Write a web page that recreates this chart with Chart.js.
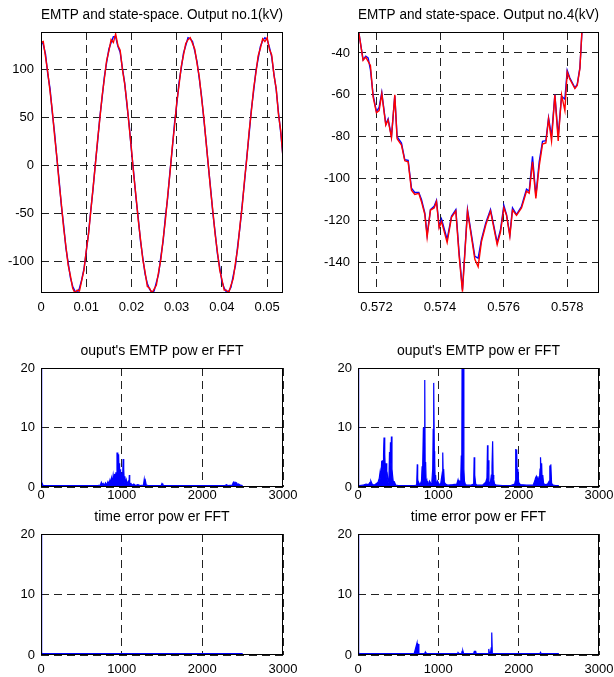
<!DOCTYPE html>
<html>
<head>
<meta charset="utf-8">
<title>EMTP and state-space</title>
<script src="https://cdn.jsdelivr.net/npm/chart.js@4.4.0/dist/chart.umd.min.js"></script>
<style>
  html, body { margin: 0; padding: 0; background: #fff; width: 614px; height: 677px; overflow: hidden; }
  canvas { position: absolute; }
</style>
</head>
<body>
<canvas id="c-tl"></canvas>
<canvas id="c-tr"></canvas>
<canvas id="c-ml"></canvas>
<canvas id="c-mr"></canvas>
<canvas id="c-bl"></canvas>
<canvas id="c-br"></canvas>
<script>
"use strict";

// ── Output no.1 (kV): sample times in ms, EMTP (blue) and state-space (red) ─
const OUT1_T_MS = [
  0, 0.5, 1, 1.5, 2, 2.5, 3, 3.5, 4, 4.5, 5, 5.5, 6, 6.5, 7, 7.5, 8, 8.5, 9, 9.5,
  10, 10.5, 11, 11.5, 12, 12.5, 13, 13.5, 14, 14.5, 15, 15.5, 16, 16.5, 17, 17.5, 18, 18.5, 19, 19.5,
  20, 20.5, 21, 21.5, 22, 22.5, 23, 23.5, 24, 24.5, 25, 25.5, 26, 26.5, 27, 27.5, 28, 28.5, 29, 29.5,
  30, 30.5, 31, 31.5, 32, 32.5, 33, 33.5, 34, 34.5, 35, 35.5, 36, 36.5, 37, 37.5, 38, 38.5, 39, 39.5,
  40, 40.5, 41, 41.5, 42, 42.5, 43, 43.5, 44, 44.5, 45, 45.5, 46, 46.5, 47, 47.5, 48, 48.5, 49, 49.5,
  50, 50.5, 51, 51.5, 52, 52.5, 53, 53.5,
];
const OUT1_EMTP = [
  130, 126, 116, 95, 80, 55, 34, 8, -15, -42, -62, -86, -101, -117, -126, -131, -133, -128, -119, -108,
  -90, -71, -47, -25, 1, 24, 50, 70, 92, 107, 121, 128, 134, 134, 124, 118, 101, 86, 63, 42,
  15, -8, -34, -55, -79, -96, -113, -123, -129, -132, -131, -122, -113, -95, -79, -54, -34, -7, 16, 43,
  63, 86, 101, 117, 125, 133, 132, 129, 119, 108, 90, 72, 48, 25, -1, -24, -50, -70, -92, -106,
  -121, -128, -132, -131, -127, -115, -104, -83, -64, -40, -17, 9, 32, 58, 77, 98, 111, 124, 130, 133,
  131, 123, 113, 95, 79, 55, 34, 9,
];
const OUT1_SS = [
  128, 129, 113, 97, 77, 57, 31, 9, -18, -40, -65, -84, -104, -115, -128, -133, -130, -131, -120, -109,
  -89, -72, -48, -24, 0, 26, 48, 72, 90, 109, 119, 131, 128, 137, 125, 120, 100, 85, 65, 40,
  17, -10, -32, -57, -77, -98, -111, -126, -128, -133, -129, -125, -111, -98, -77, -57, -32, -9, 18, 40,
  65, 83, 103, 115, 127, 131, 133, 127, 121, 106, 92, 70, 50, 24, 0, -26, -48, -72, -90, -109,
  -119, -130, -130, -133, -125, -118, -101, -86, -62, -42, -15, 7, 35, 56, 80, 96, 114, 122, 132, 129,
  133, 121, 115, 94, 80, 53, 36, 8,
];

// ── Output no.4 (kV), zoomed window ───────────────────────────────────────
const OUT4_T = [
  0.571423, 0.571580, 0.571664, 0.571738, 0.571811, 0.571895, 0.572000, 0.572084, 0.572168, 0.572294,
  0.572367, 0.572472, 0.572577, 0.572650, 0.572787, 0.572892, 0.572997, 0.573101, 0.573206, 0.573332,
  0.573416, 0.573521, 0.573594, 0.573699, 0.573815, 0.573888, 0.573972, 0.574046, 0.574224, 0.574360,
  0.574497, 0.574601, 0.574706, 0.574864, 0.575095, 0.575199, 0.575304, 0.575441, 0.575588, 0.575797,
  0.575902, 0.576007, 0.576091, 0.576196, 0.576280, 0.576406, 0.576563, 0.576720, 0.576804, 0.576909,
  0.577014, 0.577119, 0.577224, 0.577329, 0.577413, 0.577507, 0.577612, 0.577717, 0.577822, 0.577927,
  0.578000, 0.578084, 0.578242, 0.578315, 0.578399, 0.578472,
];
const OUT4_EMTP = [
  -28, -43.2, -41.6, -42.4, -48, -60, -68, -66, -58.8, -74,
  -71.5, -80, -60.5, -80, -83, -91, -91.3, -104.5, -106.6, -106.6,
  -110, -116.4, -126.8, -114.8, -113.2, -110.4, -122.8, -119.3, -129, -118,
  -114.8, -135.5, -153, -114.8, -137.1, -138, -129, -121, -114.8, -130.4,
  -124.4, -112.8, -117.2, -126.8, -114, -117.2, -113.2, -105, -106, -89.4,
  -108.3, -92, -82.2, -81.9, -71, -79.8, -59.9, -79.8, -60.7, -62,
  -48.3, -52, -56.7, -55, -47, -28,
];
const OUT4_SS = [
  -28, -43.5, -42, -44, -46, -61, -68.5, -67.5, -59.5, -74.5,
  -72, -80.5, -60, -81, -84, -91.5, -92, -105.5, -107.5, -107,
  -111, -117, -128, -115, -114, -111, -123.5, -120.5, -130.5, -118.5,
  -115.5, -137, -154, -115.5, -138.5, -142, -130, -122, -115.5, -131.5,
  -125.5, -114, -117.5, -127.5, -115, -117.5, -114, -106, -107, -92,
  -109.5, -94, -83.5, -83, -71.5, -82, -60, -82, -60, -67.5,
  -49, -52.5, -57, -55.5, -47.5, -27,
];

// ── Output's EMTP power FFT, output no.1 ──────────────────────────────────
const FFT1_F = [
  0, 6, 10, 15, 25, 40, 700, 735, 748, 758, 770, 782, 800, 812, 830, 842, 855, 865, 875, 885, 895,
  905, 912, 920, 928, 936, 942, 947, 952, 957, 962, 967, 972, 977, 982, 987, 992, 998, 1005, 1012, 1018,
  1023, 1028, 1033, 1040, 1048, 1058, 1068, 1080, 1090, 1095, 1100, 1115, 1130, 1150, 1170, 1200, 1230, 1270, 1280, 1288,
  1295, 1305, 1330, 1490, 1500, 1510, 1520, 2280, 2300, 2315, 2370, 2385, 2395, 2405, 2415, 2425, 2435, 2450, 2470, 2500,
];
const FFT1_P = [
  60, 60, 0.5, 0.6, 0.25, 0.25, 0.25, 0.3, 0.8, 0.4, 0.6, 0.3, 0.7, 0.3, 0.9, 0.5, 1.2, 0.6, 1.5, 0.7, 2.0,
  1.0, 2.2, 1.2, 2.5, 1.6, 5.8, 3.0, 5.8, 2.5, 5.5, 2.8, 4.0, 1.8, 3.0, 1.2, 2.2, 0.8, 2.5, 1.5, 4.7,
  1.5, 3.0, 0.8, 1.8, 0.6, 1.2, 0.5, 0.9, 0.5, 2.0, 0.4, 0.6, 0.3, 0.5, 0.25, 0.4, 0.25, 0.3, 1.3, 0.5,
  1.0, 0.3, 0.25, 0.25, 0.6, 0.4, 0.25, 0.25, 0.4, 0.25, 0.3, 0.8, 0.5, 0.8, 0.6, 0.7, 0.4, 0.5, 0.3, 0.25,
];

// ── Output's EMTP power FFT, output no.4 ──────────────────────────────────
const FFT4_F = [
  0, 6, 10, 20, 60, 100, 130, 150, 160, 175, 200, 230, 250, 265, 275, 285, 295, 300, 305, 312, 318,
  324, 330, 336, 342, 350, 358, 366, 375, 385, 392, 398, 404, 410, 416, 423, 430, 438, 446, 455, 470,
  500, 600, 700, 730, 738, 743, 748, 755, 770, 790, 798, 803, 808, 814, 818, 824, 831, 836, 842, 848,
  853, 859, 866, 875, 890, 910, 920, 930, 936, 940, 945, 950, 955, 960, 966, 972, 980, 990, 1010, 1030,
  1045, 1050, 1055, 1060, 1066, 1075, 1090, 1120, 1180, 1230, 1245, 1255, 1270, 1280, 1286, 1292, 1297, 1302, 1307, 1312,
  1318, 1325, 1335, 1350, 1400, 1440, 1446, 1450, 1456, 1465, 1480, 1550, 1590, 1605, 1612, 1618, 1624, 1630, 1636, 1645,
  1660, 1668, 1676, 1682, 1690, 1700, 1720, 1800, 1900, 1950, 1958, 1963, 1968, 1975, 1982, 1990, 2000, 2020, 2100, 2180,
  2200, 2210, 2220, 2230, 2240, 2250, 2260, 2266, 2272, 2280, 2286, 2292, 2300, 2310, 2330, 2360, 2380, 2388, 2394, 2400,
  2410, 2430, 2460, 2500,
];
const FFT4_P = [
  60, 60, 0.3, 0.25, 0.3, 0.5, 0.4, 0.8, 1.0, 0.5, 0.3, 0.6, 0.8, 1.5, 2.5, 1.2, 4.4, 2.0, 4.5, 3.0, 5.5,
  8.3, 3.5, 5.5, 2.2, 4.0, 1.5, 2.0, 0.8, 1.2, 5.9, 3.0, 7.5, 4.0, 8.5, 3.0, 2.0, 1.0, 0.6, 0.8, 0.3,
  0.25, 0.25, 0.25, 0.3, 3.8, 1.5, 0.4, 0.8, 0.3, 1.0, 3.5, 2.0, 3.8, 10.0, 4.0, 9.5, 18.0, 3.5, 4.2, 1.0,
  0.6, 1.0, 0.3, 0.4, 1.0, 0.5, 1.0, 3.0, 9.8, 4.0, 17.5, 6.0, 4.4, 1.5, 2.0, 0.8, 0.5, 1.0, 0.4, 0.6,
  2.0, 1.5, 5.8, 2.5, 3.0, 0.8, 0.5, 0.3, 0.4, 0.5, 1.2, 0.5, 1.0, 2.0, 5.3, 2.5, 30, 22, 30, 25,
  3.0, 1.0, 0.5, 0.3, 0.3, 0.5, 5.0, 1.5, 2.0, 0.5, 0.3, 0.3, 0.8, 1.5, 7.0, 3.0, 4.5, 1.0, 0.6, 0.4,
  2.0, 3.5, 7.7, 2.0, 1.2, 0.5, 0.3, 0.25, 0.25, 0.5, 1.0, 6.4, 3.0, 6.3, 2.0, 3.0, 0.8, 0.4, 0.3, 0.3,
  1.0, 1.5, 1.8, 1.2, 1.8, 0.8, 1.5, 3.0, 5.0, 2.0, 4.0, 1.2, 2.0, 0.6, 0.4, 0.5, 1.0, 3.6, 1.5, 3.8,
  0.6, 0.3, 0.25, 0.25,
];

// ── Time error power FFT, outputs no.1 and no.4 ───────────────────────────
const ERR1_F = [0, 6, 10, 20, 2500];
const ERR1_P = [60, 60, 0.3, 0.25, 0.25];

const ERR4_F = [
  0, 6, 10, 20, 700, 735, 742, 750, 758, 830, 838, 846, 1240, 1245, 1252, 1290, 1295, 1305, 1315, 1440, 1448,
  1465, 1472, 1620, 1628, 1635, 1650, 1658, 1665, 1672, 2265, 2272, 2280, 2500,
];
const ERR4_P = [
  60, 60, 0.3, 0.25, 0.25, 2.0, 0.4, 1.8, 0.25, 0.25, 0.5, 0.25, 0.25, 0.4, 0.25, 0.25, 0.6, 0.7, 0.25, 0.25, 0.6,
  0.6, 0.25, 0.25, 1.0, 0.3, 0.4, 1.2, 3.7, 0.25, 0.25, 0.45, 0.25, 0.25,
];

// ── Axis ticks ─────────────────────────────────────────────────────────────
const OUT1_XTICKS = [0, 0.01, 0.02, 0.03, 0.04, 0.05];
const OUT1_YTICKS = [-100, -50, 0, 50, 100];
const OUT4_XTICKS = [0.572, 0.574, 0.576, 0.578];
const OUT4_YTICKS = [-140, -120, -100, -80, -60, -40];
const FFT_XTICKS = [0, 1000, 2000, 3000];
const FFT_YTICKS = [0, 10, 20];

// ── Chart.js defaults ──────────────────────────────────────────────────────
Chart.defaults.font.family = "'Liberation Sans', Arial, sans-serif";
Chart.defaults.font.size = 13;
Chart.defaults.color = "#000";

const BLUE = "#0000ff";
const RED = "#ff0000";

// axis box widths around each plot area
const AXIS_W = 45, AXIS_H = 24, TITLE_H = 24, PAD_R = 22;

function points(xs, ys, scale = 1) {
  return xs.map((x, i) => ({ x: x * scale, y: ys[i] }));
}

// black frame around the plot area, like a MATLAB axes box
const boxPlugin = {
  id: "box",
  afterDatasetsDraw(chart) {
    const { ctx, chartArea: a } = chart;
    ctx.save();
    ctx.strokeStyle = "#000";
    ctx.lineWidth = 1;
    ctx.setLineDash([]);
    ctx.strokeRect(a.left + 0.5, a.top + 0.5, a.right - a.left - 1, a.bottom - a.top - 1);
    ctx.restore();
  },
};

function axis(min, max, ticks, pad) {
  return {
    type: "linear",
    min, max,
    afterBuildTicks: s => { s.ticks = ticks.map(v => ({ value: v })); },
    ticks: {
      autoSkip: false, maxRotation: 0, padding: pad,
      callback: v => String(v),
    },
    grid: { color: "#222", lineWidth: 1, drawTicks: false },
    border: { display: false, dash: [8, 5] },
  };
}

function makePanel(id, box, title, datasets, x, y) {
  const c = document.getElementById(id);
  c.width = box.right - box.left + AXIS_W + PAD_R;
  c.height = box.bottom - box.top + TITLE_H + AXIS_H;
  c.style.left = (box.left - AXIS_W) + "px";
  c.style.top = (box.top - TITLE_H) + "px";

  const xs = axis(x.min, x.max, x.ticks, x.pad);
  xs.afterFit = s => { s.height = AXIS_H; };
  const ys = axis(y.min, y.max, y.ticks, y.pad);
  ys.afterFit = s => { s.width = AXIS_W; };

  return new Chart(c.getContext("2d"), {
    type: "line",
    data: { datasets },
    options: {
      responsive: false,
      animation: false,
      devicePixelRatio: 1,
      layout: { padding: { left: 0, right: PAD_R, top: 0, bottom: 0 } },
      plugins: {
        legend: { display: false },
        tooltip: { enabled: false },
        title: {
          display: true, text: title, fullSize: false,
          font: { size: 14, weight: "normal", lineHeight: "14px" },
          color: "#000",
          padding: { top: 0, bottom: 10 },
        },
      },
      scales: { x: xs, y: ys },
    },
    plugins: [boxPlugin],
  });
}

function line(data, color, width, order) {
  return {
    data, borderColor: color, borderWidth: width, order,
    pointRadius: 0, tension: 0, fill: false, clip: 0,
  };
}

// spectrum trace: thin blue line, filled down to zero like dense FFT bins
function spectrum(data) {
  return {
    data, borderColor: BLUE, backgroundColor: BLUE, borderWidth: 1.2,
    pointRadius: 0, tension: 0, fill: "origin", clip: 0,
  };
}

// ── Panels ─────────────────────────────────────────────────────────────────
makePanel("c-tl", { left: 41, top: 32, right: 283, bottom: 293 },
  "EMTP and state-space. Output no.1(kV)",
  [line(points(OUT1_T_MS, OUT1_SS, 0.001), RED, 1.4, 1),
   line(points(OUT1_T_MS, OUT1_EMTP, 0.001), BLUE, 1.4, 2)],
  { min: 0, max: 0.0535, ticks: OUT1_XTICKS, pad: 7 },
  { min: -133, max: 139, ticks: OUT1_YTICKS, pad: 7 });

makePanel("c-tr", { left: 358, top: 32, right: 599, bottom: 293 },
  "EMTP and state-space. Output no.4(kV)",
  [line(points(OUT4_T, OUT4_SS), RED, 1.4, 1),
   line(points(OUT4_T, OUT4_EMTP), BLUE, 1.4, 2)],
  { min: 0.57142, max: 0.579, ticks: OUT4_XTICKS, pad: 7 },
  { min: -154.6, max: -30, ticks: OUT4_YTICKS, pad: 8 });

makePanel("c-ml", { left: 41, top: 368, right: 283, bottom: 487 },
  "ouput's EMTP pow er FFT",
  [spectrum(points(FFT1_F, FFT1_P))],
  { min: 0, max: 3000, ticks: FFT_XTICKS, pad: 1 },
  { min: 0, max: 20, ticks: FFT_YTICKS, pad: 6 });

makePanel("c-mr", { left: 358, top: 368, right: 599, bottom: 487 },
  "ouput's EMTP pow er FFT",
  [spectrum(points(FFT4_F, FFT4_P))],
  { min: 0, max: 3000, ticks: FFT_XTICKS, pad: 1 },
  { min: 0, max: 20, ticks: FFT_YTICKS, pad: 6 });

makePanel("c-bl", { left: 41, top: 534, right: 283, bottom: 655 },
  "time error pow er FFT",
  [spectrum(points(ERR1_F, ERR1_P))],
  { min: 0, max: 3000, ticks: FFT_XTICKS, pad: 7 },
  { min: 0, max: 20, ticks: FFT_YTICKS, pad: 6 });

makePanel("c-br", { left: 358, top: 534, right: 599, bottom: 655 },
  "time error pow er FFT",
  [spectrum(points(ERR4_F, ERR4_P))],
  { min: 0, max: 3000, ticks: FFT_XTICKS, pad: 7 },
  { min: 0, max: 20, ticks: FFT_YTICKS, pad: 6 });
</script>
</body>
</html>
